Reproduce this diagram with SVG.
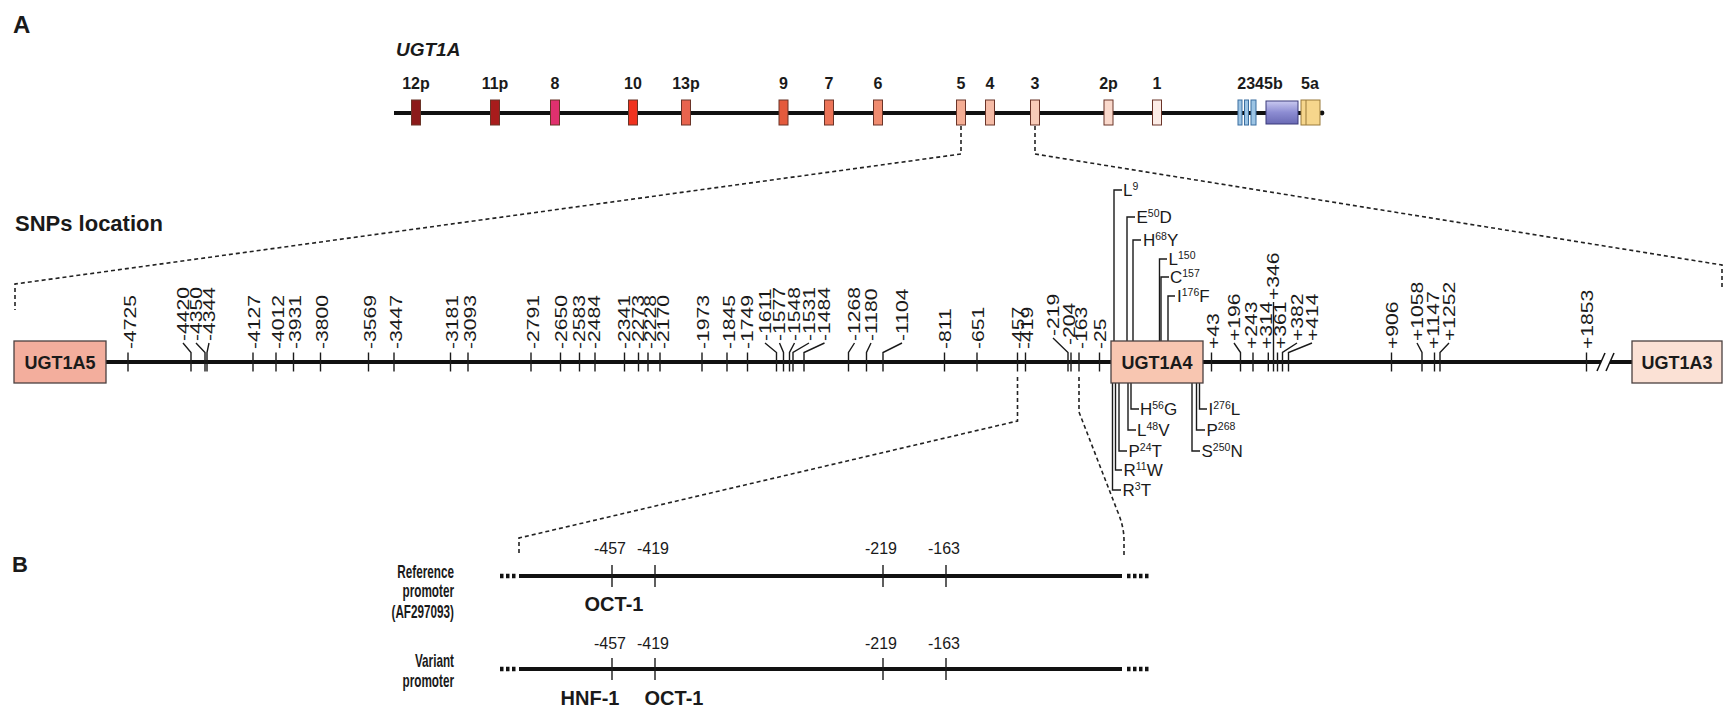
<svg xmlns="http://www.w3.org/2000/svg" width="1724" height="713" viewBox="0 0 1724 713">
<defs>
<linearGradient id="g5b" x1="0" y1="0" x2="0" y2="1">
<stop offset="0" stop-color="#c9c9f0"/><stop offset="0.5" stop-color="#8c8cd2"/><stop offset="1" stop-color="#6a6ab4"/>
</linearGradient>
</defs>
<style>
text{font-family:"Liberation Sans",Arial,sans-serif;fill:#1a1a1a}
.b{font-weight:bold}
.snp{font-size:16px}
.mut{font-size:17px}
.sup{font-size:10.5px}
.tk{stroke:#1a1a1a;stroke-width:1.4;fill:none}
.ln{stroke:#111;stroke-width:4;fill:none}
.dash{stroke:#222;stroke-width:1.6;fill:none;stroke-dasharray:4 3}
.ex{stroke:#6a3428;stroke-width:1}
.box{stroke:#4a4040;stroke-width:1.3}
.dots{stroke:#111;stroke-width:4.5;stroke-dasharray:3.5 2.5;fill:none}
.lab{font-weight:bold;font-size:17.5px}
</style>
<rect width="1724" height="713" fill="#fff"/>

<!-- Panel A: gene structure -->
<g id="panelA-gene">
<text class="b" x="13" y="33" font-size="24">A</text>
<text class="b" x="396" y="56" font-size="19" font-style="italic">UGT1A</text>
<line class="ln" x1="394" y1="113" x2="1322" y2="113"/>
<circle cx="1322" cy="113" r="2.4" fill="#111"/>
<g id="exon-12p"><rect class="ex" x="411.5" y="100" width="9" height="25" fill="#8c1a1a"/><text class="b" x="416" y="89" font-size="16" text-anchor="middle">12p</text></g>
<g id="exon-11p"><rect class="ex" x="490.5" y="100" width="9" height="25" fill="#a81c1c"/><text class="b" x="495" y="89" font-size="16" text-anchor="middle">11p</text></g>
<g id="exon-8"><rect class="ex" x="550.5" y="100" width="9" height="25" fill="#e0306e"/><text class="b" x="555" y="89" font-size="16" text-anchor="middle">8</text></g>
<g id="exon-10"><rect class="ex" x="628.5" y="100" width="9" height="25" fill="#f0321e"/><text class="b" x="633" y="89" font-size="16" text-anchor="middle">10</text></g>
<g id="exon-13p"><rect class="ex" x="681.5" y="100" width="9" height="25" fill="#e8644e"/><text class="b" x="686" y="89" font-size="16" text-anchor="middle">13p</text></g>
<g id="exon-9"><rect class="ex" x="779" y="100" width="9" height="25" fill="#e45a3c"/><text class="b" x="783.5" y="89" font-size="16" text-anchor="middle">9</text></g>
<g id="exon-7"><rect class="ex" x="824.5" y="100" width="9" height="25" fill="#ec7458"/><text class="b" x="829" y="89" font-size="16" text-anchor="middle">7</text></g>
<g id="exon-6"><rect class="ex" x="873.5" y="100" width="9" height="25" fill="#f08c70"/><text class="b" x="878" y="89" font-size="16" text-anchor="middle">6</text></g>
<g id="exon-5"><rect class="ex" x="956.5" y="100" width="9" height="25" fill="#f4ad94"/><text class="b" x="961" y="89" font-size="16" text-anchor="middle">5</text></g>
<g id="exon-4"><rect class="ex" x="985.5" y="100" width="9" height="25" fill="#f5bba6"/><text class="b" x="990" y="89" font-size="16" text-anchor="middle">4</text></g>
<g id="exon-3"><rect class="ex" x="1030.5" y="100" width="9" height="25" fill="#f8cbb8"/><text class="b" x="1035" y="89" font-size="16" text-anchor="middle">3</text></g>
<g id="exon-2p"><rect class="ex" x="1104" y="100" width="9" height="25" fill="#fad9cc"/><text class="b" x="1108.5" y="89" font-size="16" text-anchor="middle">2p</text></g>
<g id="exon-1"><rect class="ex" x="1152.5" y="100" width="9" height="25" fill="#fcece6"/><text class="b" x="1157" y="89" font-size="16" text-anchor="middle">1</text></g>
<g id="exon-2345b">
<rect x="1238" y="100" width="4" height="25" fill="#9cc4e4" stroke="#3a6ea0" stroke-width="1"/>
<rect x="1244.5" y="100" width="4" height="25" fill="#9cc4e4" stroke="#3a6ea0" stroke-width="1"/>
<rect x="1251" y="100" width="5" height="25" fill="#9cc4e4" stroke="#3a6ea0" stroke-width="1"/>
<rect x="1266" y="101" width="32" height="23" fill="url(#g5b)" stroke="#3a3a7a" stroke-width="1"/>
<text class="b" x="1260" y="89" font-size="16" text-anchor="middle">2345b</text>
</g>
<g id="exon-5a">
<rect x="1301" y="100" width="19" height="25" fill="#f6d68c" stroke="#9a7a3a" stroke-width="1"/>
<line x1="1306" y1="100" x2="1306" y2="125" stroke="#9a7a3a" stroke-width="1"/>
<text class="b" x="1310" y="89" font-size="16" text-anchor="middle">5a</text>
</g>
</g>

<!-- zoom connectors -->
<g id="connectors">
<path class="dash" d="M961,126 V154 L15,284 V310"/>
<path class="dash" d="M1035,126 V154 L1722,265 V290"/>
<path class="dash" d="M1017.5,377 V421 L519,538 V556"/>
<path class="dash" d="M1079,377 V412 L1117,510 Q1124,526 1124,540 V556"/>
</g>

<!-- SNP map -->
<text class="b" x="15" y="231" font-size="22">SNPs location</text>
<g id="snp-line">
<line class="ln" x1="106" y1="362" x2="1111" y2="362"/>
<line class="ln" x1="1203" y1="362" x2="1601" y2="362"/>
<line class="ln" x1="1610" y1="362" x2="1632" y2="362"/>
<line x1="1597" y1="371" x2="1605" y2="353" stroke="#111" stroke-width="1.5"/>
<line x1="1606" y1="371" x2="1614" y2="353" stroke="#111" stroke-width="1.5"/>
</g>
<g id="UGT1A5"><rect class="box" x="14" y="341" width="92" height="42" fill="#f3ae9d"/><text class="b" x="60" y="369" font-size="18" text-anchor="middle">UGT1A5</text></g>
<g id="UGT1A3"><rect class="box" x="1632" y="341" width="90" height="42" fill="#fbe1d5"/><text class="b" x="1677" y="369" font-size="18" text-anchor="middle">UGT1A3</text></g>

<g id="snp-markers">
<line class="tk" x1="128" y1="352.5" x2="128" y2="371.5"/><text class="snp" transform="translate(135.7,349) rotate(-90) scale(1.32,1)">-4725</text>
<polyline class="tk" points="183,343 191,352.5 191,371.5"/><text class="snp" transform="translate(188.7,341) rotate(-90) scale(1.32,1)">-4420</text>
<polyline class="tk" points="196,343 205,352.5 205,371.5"/><text class="snp" transform="translate(201.7,341) rotate(-90) scale(1.32,1)">-4350</text>
<polyline class="tk" points="209,343 207,352.5 207,371.5"/><text class="snp" transform="translate(214.7,341) rotate(-90) scale(1.32,1)">-4344</text>
<line class="tk" x1="253" y1="352.5" x2="253" y2="371.5"/><text class="snp" transform="translate(259.7,349) rotate(-90) scale(1.32,1)">-4127</text>
<line class="tk" x1="276" y1="352.5" x2="276" y2="371.5"/><text class="snp" transform="translate(283.7,349) rotate(-90) scale(1.32,1)">-4012</text>
<line class="tk" x1="293.5" y1="352.5" x2="293.5" y2="371.5"/><text class="snp" transform="translate(300.7,349) rotate(-90) scale(1.32,1)">-3931</text>
<line class="tk" x1="320.5" y1="352.5" x2="320.5" y2="371.5"/><text class="snp" transform="translate(327.7,349) rotate(-90) scale(1.32,1)">-3800</text>
<line class="tk" x1="368.5" y1="352.5" x2="368.5" y2="371.5"/><text class="snp" transform="translate(376.2,349) rotate(-90) scale(1.32,1)">-3569</text>
<line class="tk" x1="394" y1="352.5" x2="394" y2="371.5"/><text class="snp" transform="translate(401.7,349) rotate(-90) scale(1.32,1)">-3447</text>
<line class="tk" x1="450.5" y1="352.5" x2="450.5" y2="371.5"/><text class="snp" transform="translate(458.2,349) rotate(-90) scale(1.32,1)">-3181</text>
<line class="tk" x1="468" y1="352.5" x2="468" y2="371.5"/><text class="snp" transform="translate(475.7,349) rotate(-90) scale(1.32,1)">-3093</text>
<line class="tk" x1="531" y1="352.5" x2="531" y2="371.5"/><text class="snp" transform="translate(538.7,349) rotate(-90) scale(1.32,1)">-2791</text>
<line class="tk" x1="560.5" y1="352.5" x2="560.5" y2="371.5"/><text class="snp" transform="translate(567.2,349) rotate(-90) scale(1.32,1)">-2650</text>
<line class="tk" x1="579.5" y1="352.5" x2="579.5" y2="371.5"/><text class="snp" transform="translate(585.2,349) rotate(-90) scale(1.32,1)">-2583</text>
<line class="tk" x1="595" y1="352.5" x2="595" y2="371.5"/><text class="snp" transform="translate(599.7,349) rotate(-90) scale(1.32,1)">-2484</text>
<line class="tk" x1="624.5" y1="352.5" x2="624.5" y2="371.5"/><text class="snp" transform="translate(630.2,349) rotate(-90) scale(1.32,1)">-2341</text>
<line class="tk" x1="638.5" y1="352.5" x2="638.5" y2="371.5"/><text class="snp" transform="translate(643.7,349) rotate(-90) scale(1.32,1)">-2273</text>
<line class="tk" x1="648" y1="352.5" x2="648" y2="371.5"/><text class="snp" transform="translate(655.7,349) rotate(-90) scale(1.32,1)">-2228</text>
<line class="tk" x1="660" y1="352.5" x2="660" y2="371.5"/><text class="snp" transform="translate(668.7,349) rotate(-90) scale(1.32,1)">-2170</text>
<line class="tk" x1="702" y1="352.5" x2="702" y2="371.5"/><text class="snp" transform="translate(708.7,349) rotate(-90) scale(1.32,1)">-1973</text>
<line class="tk" x1="727" y1="352.5" x2="727" y2="371.5"/><text class="snp" transform="translate(734.7,349) rotate(-90) scale(1.32,1)">-1845</text>
<line class="tk" x1="747.5" y1="352.5" x2="747.5" y2="371.5"/><text class="snp" transform="translate(753.2,349) rotate(-90) scale(1.32,1)">-1749</text>
<polyline class="tk" points="765,343 776.5,352.5 776.5,371.5"/><text class="snp" transform="translate(770.7,341) rotate(-90) scale(1.32,1)">-1611</text>
<polyline class="tk" points="779.5,343 783.5,352.5 783.5,371.5"/><text class="snp" transform="translate(785.2,341) rotate(-90) scale(1.32,1)">-1577</text>
<polyline class="tk" points="794.5,343 789.5,352.5 789.5,371.5"/><text class="snp" transform="translate(800.2,341) rotate(-90) scale(1.32,1)">-1548</text>
<polyline class="tk" points="809,343 793,352.5 793,371.5"/><text class="snp" transform="translate(814.7,341) rotate(-90) scale(1.32,1)">-1531</text>
<polyline class="tk" points="824.5,343 804,352.5 804,371.5"/><text class="snp" transform="translate(830.2,341) rotate(-90) scale(1.32,1)">-1484</text>
<polyline class="tk" points="854.5,343 848.5,352.5 848.5,371.5"/><text class="snp" transform="translate(860.2,341) rotate(-90) scale(1.32,1)">-1268</text>
<polyline class="tk" points="871,343 866.5,352.5 866.5,371.5"/><text class="snp" transform="translate(876.7,341) rotate(-90) scale(1.32,1)">-1180</text>
<polyline class="tk" points="902,343 883,352.5 883,371.5"/><text class="snp" transform="translate(907.7,341) rotate(-90) scale(1.32,1)">-1104</text>
<line class="tk" x1="944.5" y1="352.5" x2="944.5" y2="371.5"/><text class="snp" transform="translate(951.2,349) rotate(-90) scale(1.32,1)">-811</text>
<line class="tk" x1="977" y1="352.5" x2="977" y2="371.5"/><text class="snp" transform="translate(983.7,349) rotate(-90) scale(1.32,1)">-651</text>
<line class="tk" x1="1017.5" y1="352.5" x2="1017.5" y2="371.5"/><text class="snp" transform="translate(1023.7,349) rotate(-90) scale(1.32,1)">-457</text>
<line class="tk" x1="1025.5" y1="352.5" x2="1025.5" y2="371.5"/><text class="snp" transform="translate(1033.2,349) rotate(-90) scale(1.32,1)">-419</text>
<polyline class="tk" points="1053,338 1068,352.5 1068,371.5"/><text class="snp" transform="translate(1058.7,336) rotate(-90) scale(1.32,1)">-219</text>
<line class="tk" x1="1071" y1="352.5" x2="1071" y2="371.5"/><text class="snp" transform="translate(1075.2,345) rotate(-90) scale(1.32,1)">-204</text>
<line class="tk" x1="1079" y1="352.5" x2="1079" y2="371.5"/><text class="snp" transform="translate(1087.2,349) rotate(-90) scale(1.32,1)">-163</text>
<line class="tk" x1="1099.5" y1="352.5" x2="1099.5" y2="371.5"/><text class="snp" transform="translate(1106.2,349) rotate(-90) scale(1.32,1)">-25</text>
<line class="tk" x1="1211.5" y1="352.5" x2="1211.5" y2="371.5"/><text class="snp" transform="translate(1218.7,349) rotate(-90) scale(1.32,1)">+43</text>
<polyline class="tk" points="1234,343 1240.5,352.5 1240.5,371.5"/><text class="snp" transform="translate(1239.7,341) rotate(-90) scale(1.32,1)">+196</text>
<line class="tk" x1="1253" y1="352.5" x2="1253" y2="371.5"/><text class="snp" transform="translate(1257.2,349) rotate(-90) scale(1.32,1)">+243</text>
<line class="tk" x1="1268.3" y1="352.5" x2="1268.3" y2="371.5"/><text class="snp" transform="translate(1272.2,349) rotate(-90) scale(1.32,1)">+314</text>
<line class="tk" x1="1273.5" y1="302" x2="1273.5" y2="371.5"/><text class="snp" transform="translate(1279.2,300) rotate(-90) scale(1.32,1)">+346</text>
<line class="tk" x1="1277.5" y1="352.5" x2="1277.5" y2="371.5"/><text class="snp" transform="translate(1285.7,349) rotate(-90) scale(1.32,1)">+361</text>
<polyline class="tk" points="1297,343 1282.5,352.5 1282.5,371.5"/><text class="snp" transform="translate(1302.7,341) rotate(-90) scale(1.32,1)">+382</text>
<polyline class="tk" points="1312,343 1288.5,352.5 1288.5,371.5"/><text class="snp" transform="translate(1317.7,341) rotate(-90) scale(1.32,1)">+414</text>
<line class="tk" x1="1391.5" y1="352.5" x2="1391.5" y2="371.5"/><text class="snp" transform="translate(1398.2,349) rotate(-90) scale(1.32,1)">+906</text>
<polyline class="tk" points="1417,343 1422,352.5 1422,371.5"/><text class="snp" transform="translate(1422.7,341) rotate(-90) scale(1.32,1)">+1058</text>
<line class="tk" x1="1434.5" y1="352.5" x2="1434.5" y2="371.5"/><text class="snp" transform="translate(1439.2,349) rotate(-90) scale(1.32,1)">+1147</text>
<polyline class="tk" points="1449,343 1440,352.5 1440,371.5"/><text class="snp" transform="translate(1454.7,341) rotate(-90) scale(1.32,1)">+1252</text>
<line class="tk" x1="1586.5" y1="352.5" x2="1586.5" y2="371.5"/><text class="snp" transform="translate(1592.7,349) rotate(-90) scale(1.32,1)">+1853</text>
</g>

<!-- UGT1A4 and coding variants -->
<g id="mutations">
<path class="tk" d="M1114,341 V190 H1122"/><text class="mut" x="1123" y="196">L<tspan class="sup" dy="-6.5">9</tspan></text>
<path class="tk" d="M1127,341 V217 H1135"/><text class="mut" x="1136.5" y="223">E<tspan class="sup" dy="-6.5">50</tspan><tspan dy="6.5">D</tspan></text>
<path class="tk" d="M1133,341 V240 H1141"/><text class="mut" x="1143" y="246">H<tspan class="sup" dy="-6.5">68</tspan><tspan dy="6.5">Y</tspan></text>
<path class="tk" d="M1159.5,341 V259 H1167"/><text class="mut" x="1168.5" y="265">L<tspan class="sup" dy="-6.5">150</tspan></text>
<path class="tk" d="M1161,341 V277 H1169"/><text class="mut" x="1170" y="283">C<tspan class="sup" dy="-6.5">157</tspan></text>
<path class="tk" d="M1168,341 V296 H1175"/><text class="mut" x="1177" y="302">I<tspan class="sup" dy="-6.5">176</tspan><tspan dy="6.5">F</tspan></text>
<path class="tk" d="M1131,383 V409 H1139"/><text class="mut" x="1140" y="415">H<tspan class="sup" dy="-6.5">56</tspan><tspan dy="6.5">G</tspan></text>
<path class="tk" d="M1128,383 V430 H1136"/><text class="mut" x="1137" y="436">L<tspan class="sup" dy="-6.5">48</tspan><tspan dy="6.5">V</tspan></text>
<path class="tk" d="M1119,383 V451 H1127"/><text class="mut" x="1128.5" y="457">P<tspan class="sup" dy="-6.5">24</tspan><tspan dy="6.5">T</tspan></text>
<path class="tk" d="M1115.5,383 V470 H1122"/><text class="mut" x="1123.5" y="476">R<tspan class="sup" dy="-6.5">11</tspan><tspan dy="6.5">W</tspan></text>
<path class="tk" d="M1112.5,383 V490 H1121"/><text class="mut" x="1122.5" y="496">R<tspan class="sup" dy="-6.5">3</tspan><tspan dy="6.5">T</tspan></text>
<path class="tk" d="M1199.5,383 V409 H1207"/><text class="mut" x="1208.5" y="415">I<tspan class="sup" dy="-6.5">276</tspan><tspan dy="6.5">L</tspan></text>
<path class="tk" d="M1196.5,383 V430 H1205"/><text class="mut" x="1206.5" y="436">P<tspan class="sup" dy="-6.5">268</tspan></text>
<path class="tk" d="M1192,383 V451 H1200"/><text class="mut" x="1201.5" y="457">S<tspan class="sup" dy="-6.5">250</tspan><tspan dy="6.5">N</tspan></text>
</g>
<g id="UGT1A4"><rect class="box" x="1111" y="341" width="92" height="42" fill="#f8c6b1"/><text class="b" x="1157" y="369" font-size="18" text-anchor="middle">UGT1A4</text></g>

<!-- Panel B -->
<g id="panelB">
<text class="b" x="12" y="572" font-size="22">B</text>
<g id="reference-promoter">
<text class="lab" text-anchor="end" transform="translate(454,578) scale(0.67,1)">Reference</text>
<text class="lab" text-anchor="end" transform="translate(454,597) scale(0.67,1)">promoter</text>
<text class="lab" text-anchor="end" transform="translate(454,618) scale(0.67,1)">(AF297093)</text>
<path class="dots" d="M500,576 H516"/>
<line class="ln" x1="519" y1="576" x2="1122" y2="576" stroke-width="4.5"/>
<path class="dots" d="M1127,576 H1150"/>
<line class="tk" x1="612" y1="565" x2="612" y2="587" stroke-width="1.5"/>
<line class="tk" x1="655" y1="565" x2="655" y2="587" stroke-width="1.5"/>
<line class="tk" x1="883" y1="565" x2="883" y2="587" stroke-width="1.5"/>
<line class="tk" x1="946" y1="565" x2="946" y2="587" stroke-width="1.5"/>
<text x="610" y="554" font-size="16" text-anchor="middle">-457</text>
<text x="653" y="554" font-size="16" text-anchor="middle">-419</text>
<text x="881" y="554" font-size="16" text-anchor="middle">-219</text>
<text x="944" y="554" font-size="16" text-anchor="middle">-163</text>
<text class="b" x="614" y="611" font-size="20" text-anchor="middle">OCT-1</text>
</g>
<g id="variant-promoter">
<text class="lab" text-anchor="end" transform="translate(454,667) scale(0.67,1)">Variant</text>
<text class="lab" text-anchor="end" transform="translate(454,687) scale(0.67,1)">promoter</text>
<path class="dots" d="M500,669 H516"/>
<line class="ln" x1="519" y1="669" x2="1122" y2="669" stroke-width="4.5"/>
<path class="dots" d="M1127,669 H1150"/>
<line class="tk" x1="612" y1="658" x2="612" y2="680" stroke-width="1.5"/>
<line class="tk" x1="655" y1="658" x2="655" y2="680" stroke-width="1.5"/>
<line class="tk" x1="883" y1="658" x2="883" y2="680" stroke-width="1.5"/>
<line class="tk" x1="946" y1="658" x2="946" y2="680" stroke-width="1.5"/>
<text x="610" y="649" font-size="16" text-anchor="middle">-457</text>
<text x="653" y="649" font-size="16" text-anchor="middle">-419</text>
<text x="881" y="649" font-size="16" text-anchor="middle">-219</text>
<text x="944" y="649" font-size="16" text-anchor="middle">-163</text>
<text class="b" x="590" y="705" font-size="20" text-anchor="middle">HNF-1</text>
<text class="b" x="674" y="705" font-size="20" text-anchor="middle">OCT-1</text>
</g>
</g>
</svg>
